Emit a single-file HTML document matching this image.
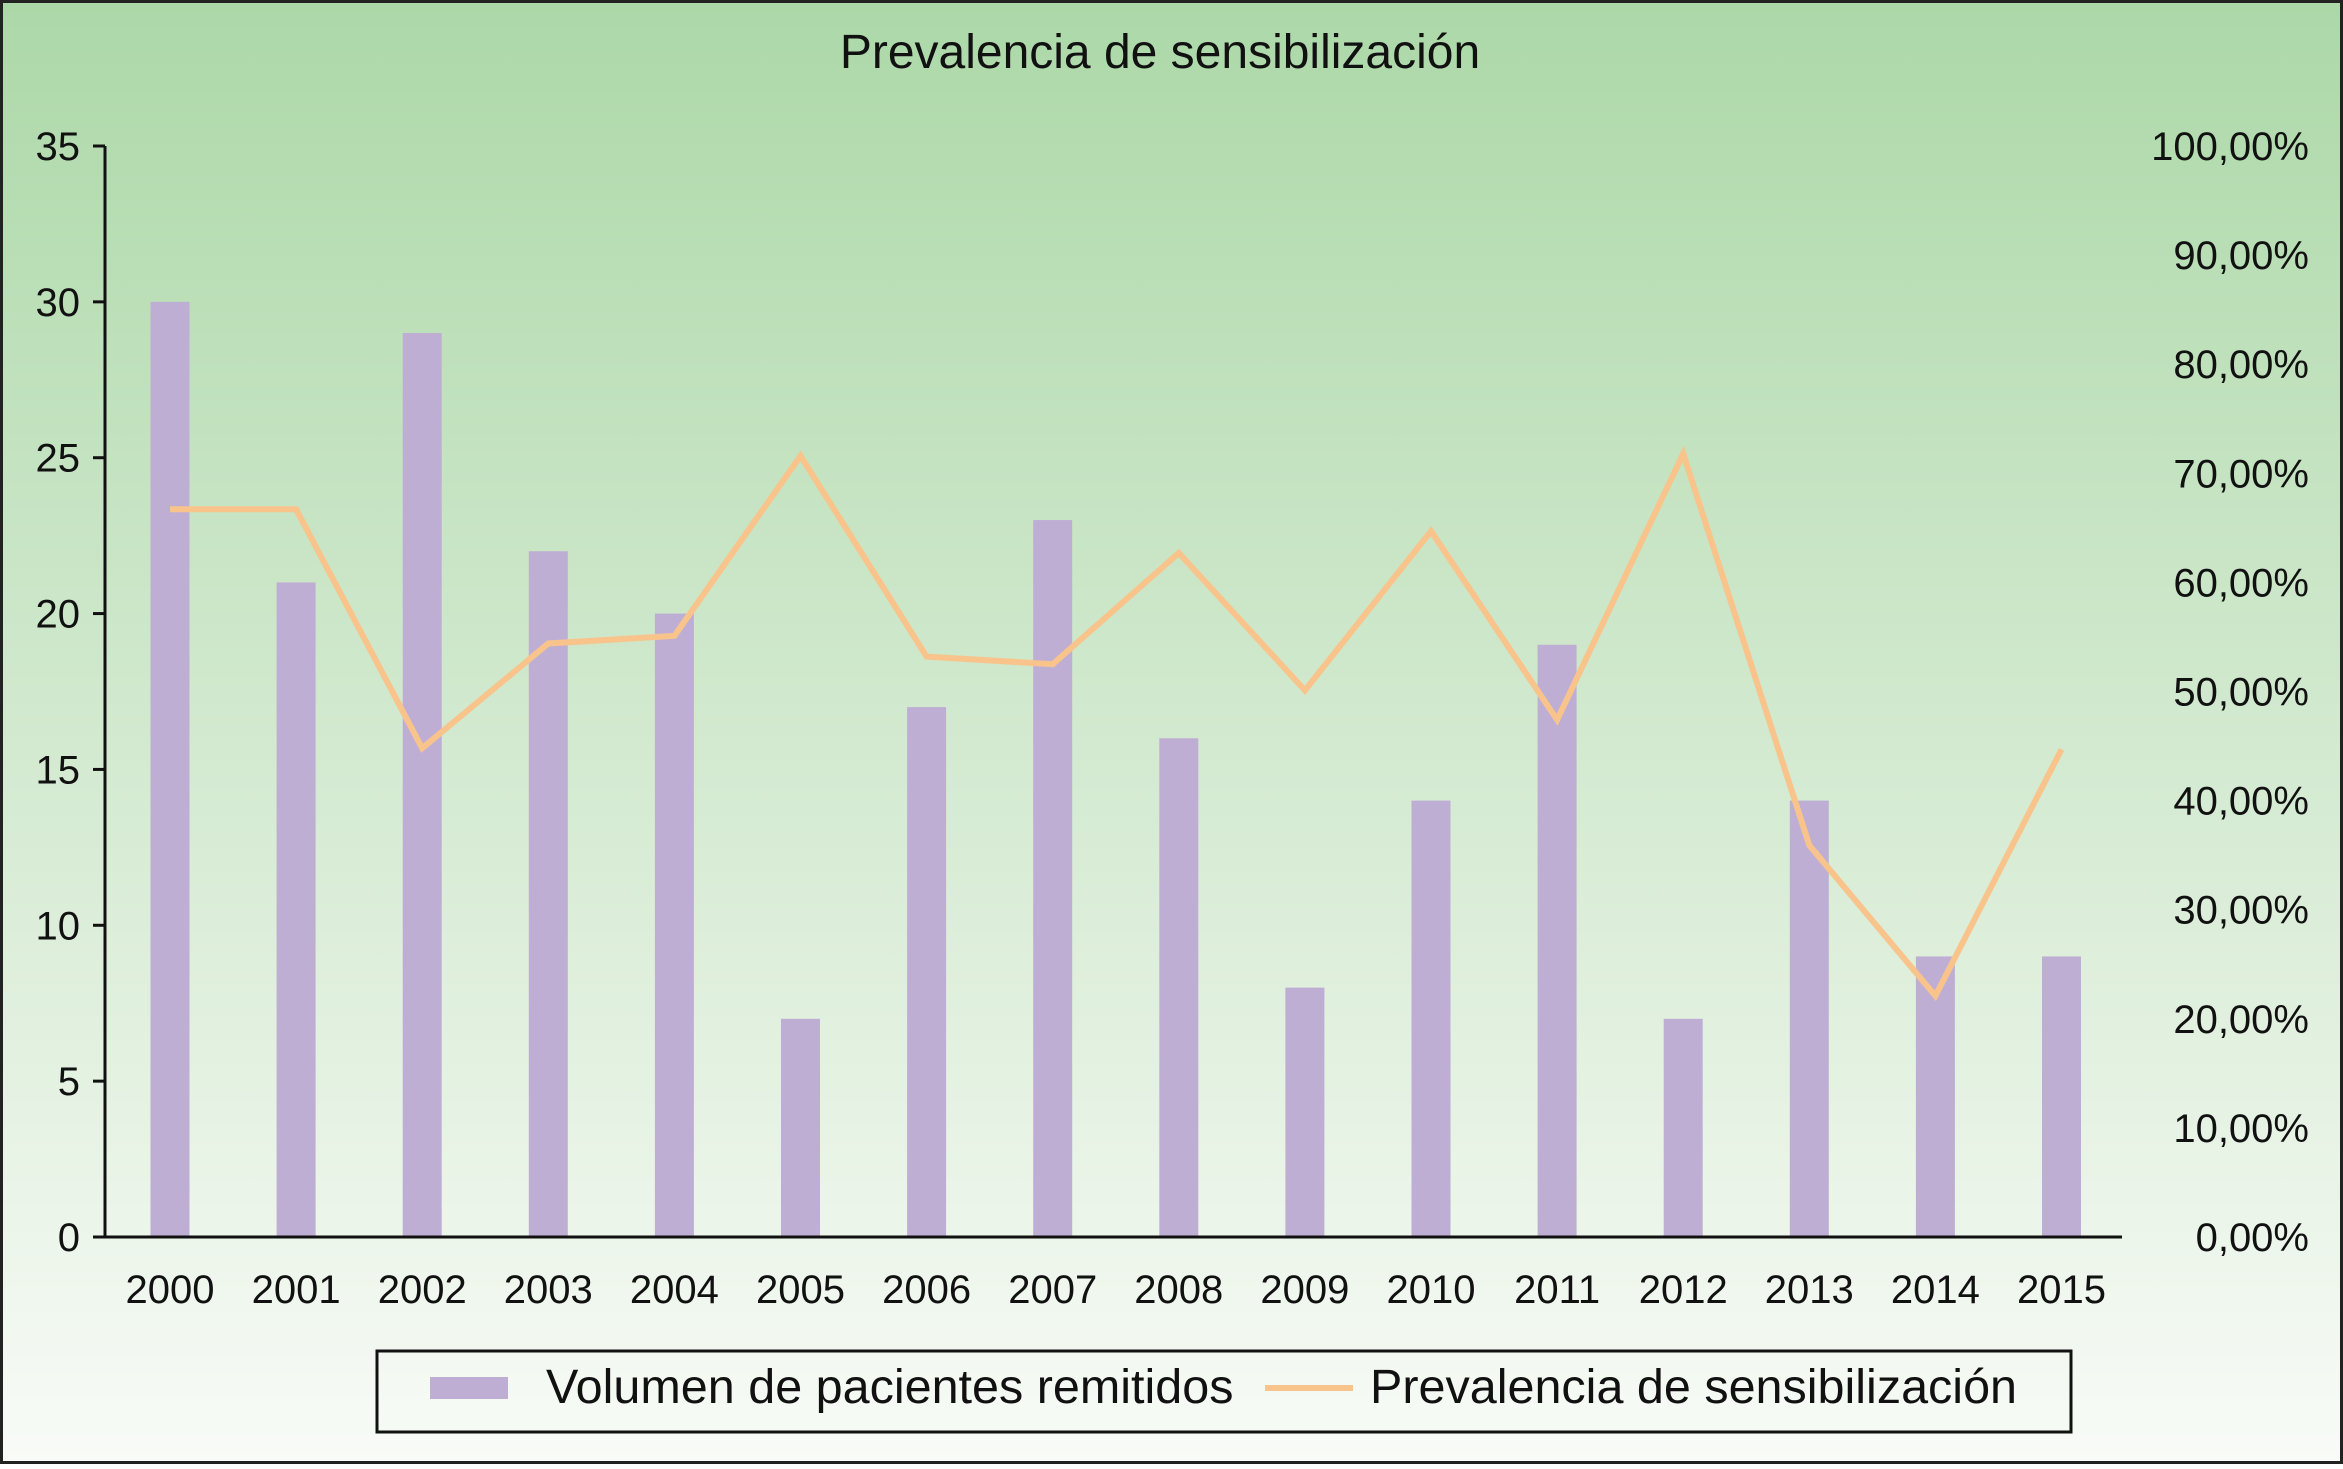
<!DOCTYPE html>
<html><head><meta charset="utf-8"><style>
html,body{margin:0;padding:0;}
body{width:2343px;height:1464px;overflow:hidden;font-family:"Liberation Sans",sans-serif;}
</style></head><body>
<svg id="chart" width="2343" height="1464" viewBox="0 0 2343 1464" xmlns="http://www.w3.org/2000/svg">
<defs><linearGradient id="bg" x1="0" y1="0" x2="0" y2="1">
<stop offset="0" stop-color="#acd8a8"/><stop offset="0.55" stop-color="#d6ebd3"/><stop offset="1" stop-color="#f8fbf7"/></linearGradient></defs>
<rect x="1.5" y="1.5" width="2340" height="1461" fill="url(#bg)" stroke="#222" stroke-width="3"/>
<text x="1160" y="68" font-size="48" text-anchor="middle" fill="#111">Prevalencia de sensibilización</text>
<g id="bars"></g><g id="lineg"></g><g id="axes"></g>
<g>
<rect x="377" y="1351" width="1694" height="81" fill="none" stroke="#111" stroke-width="3"/>
<rect x="430" y="1377" width="78" height="22" fill="#bfaed4"/>
<text x="546" y="1403" font-size="48.5" fill="#111">Volumen de pacientes remitidos</text>
<line x1="1265" y1="1388" x2="1353" y2="1388" stroke="#f8c48c" stroke-width="6"/>
<text x="1370" y="1403" font-size="48.5" fill="#111">Prevalencia de sensibilización</text>
</g>
</svg>
<script>
const years = ["2000","2001","2002","2003","2004","2005","2006","2007","2008","2009","2010","2011","2012","2013","2014","2015"];
const volumen = [30,21,29,22,20,7,17,23,16,8,14,19,7,14,9,9];
const prevalencia = [66.7,66.7,44.8,54.4,55.1,71.6,53.2,52.5,62.7,50.1,64.7,47.4,71.8,35.9,22.1,44.7];
const leftTicks = [0,5,10,15,20,25,30,35];
const rightTicks = [0,10,20,30,40,50,60,70,80,90,100];
const rightLabels = ["0,00%","10,00%","20,00%","30,00%","40,00%","50,00%","60,00%","70,00%","80,00%","90,00%","100,00%"];
const NS="http://www.w3.org/2000/svg";
const y0=1237,yTop=146,x0=105,xEnd=2122;
const yL=v=>y0-(v/35)*(y0-yTop);
const yR=v=>y0-(v/100)*(y0-yTop);
const xC=i=>170+i*126.1;
function mk(t,a,p){const e=document.createElementNS(NS,t);for(const k in a)e.setAttribute(k,a[k]);p.appendChild(e);return e;}
const bars=document.getElementById('bars'),lg=document.getElementById('lineg'),ax=document.getElementById('axes');
volumen.forEach((v,i)=>{
 const r=mk('rect',{x:xC(i)-19.5,y:yL(v),width:39,height:y0-yL(v),fill:'#bfaed4'},bars);
 
 
 const t=mk('text',{x:xC(i),y:1303,'font-size':40,'text-anchor':'middle',fill:'#111'},ax);
 t.textContent=years[i];
 
 
});
const pl=mk('polyline',{points:prevalencia.map((v,i)=>xC(i)+','+yR(v)).join(' '),fill:'none',stroke:'#f8c48c','stroke-width':6,'stroke-linejoin':'miter'},lg);


const ya=mk('line',{x1:x0,y1:yTop,x2:x0,y2:y0+1,stroke:'#111','stroke-width':3},ax);


const xa=mk('line',{x1:x0-12,y1:y0,x2:xEnd,y2:y0,stroke:'#111','stroke-width':3},ax);


leftTicks.forEach(v=>{
 const l=mk('line',{x1:x0-12,y1:yL(v),x2:x0,y2:yL(v),stroke:'#111','stroke-width':3},ax);
 
 
 const t=mk('text',{x:80,y:yL(v)+14,'font-size':40,'text-anchor':'end',fill:'#111'},ax);
 t.textContent=v;
 
 
});
rightTicks.forEach((v,i)=>{
 const t=mk('text',{x:2309,y:yR(v)+14,'font-size':40,'text-anchor':'end',fill:'#111'},ax);
 t.textContent=rightLabels[i];
 
 
});
</script>
</body></html>
